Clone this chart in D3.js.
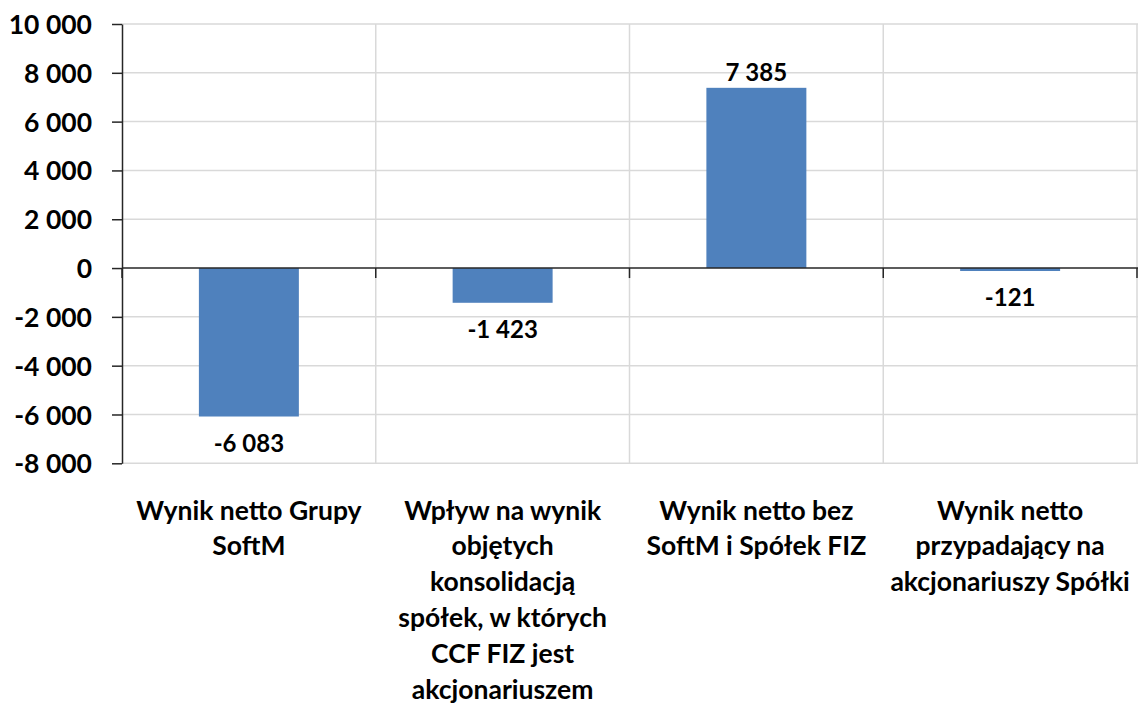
<!DOCTYPE html>
<html lang="pl">
<head>
    <meta charset="UTF-8">
    <title>Wynik netto</title>
    <script src="https://d3js.org/d3.v7.min.js"></script>
    <style>
        body { margin: 0; background: #fff; }
        svg text {
            font-family: Lato, "Open Sans", sans-serif;
            font-weight: bold;
            fill: #000;
        }
        .grid line { stroke: #d9d9d9; stroke-width: 1.5; }
        .axis path, .axis line { stroke: #262626; stroke-width: 1.5; fill: none; }
    </style>
</head>
<body>
    <svg width="1138" height="703"></svg>
    <script>
        // data
        const categories = [
            "Wynik netto Grupy\nSoftM",
            "Wpływ na wynik\nobjętych\nkonsolidacją\nspółek, w których\nCCF FIZ jest\nakcjonariuszem",
            "Wynik netto bez\nSoftM i Spółek FIZ",
            "Wynik netto\nprzypadający na\nakcjonariuszy Spółki"
        ];
        const values = [-6083, -1423, 7385, -121];
        const yTicks = [-8000, -6000, -4000, -2000, 0, 2000, 4000, 6000, 8000, 10000];

        const svg = d3.select("svg");
        const plotLeft = 122, plotRight = 1137, plotTop = 24, plotBottom = 463.3;

        const fmt = d3.formatLocale({
            decimal: ",", thousands: " ", grouping: [3],
            currency: ["", ""], minus: "-"
        }).format(",d");

        const x = d3.scaleBand()
            .domain(categories)
            .range([plotLeft, plotRight])
            .paddingInner(0.606)
            .paddingOuter(0.303);
        const y = d3.scaleLinear()
            .domain([-8000, 10000])
            .range([plotBottom, plotTop]);

        const step = x.step();
        const bounds = d3.range(categories.length + 1).map(i => plotLeft + i * step);

        // gridlines
        const grid = svg.append("g").attr("class", "grid");
        grid.selectAll(".h")
            .data(yTicks.filter(d => d !== 0))
            .enter().append("line")
            .attr("x1", plotLeft).attr("x2", plotRight + 1)
            .attr("y1", d => y(d)).attr("y2", d => y(d));
        grid.selectAll(".v")
            .data(bounds.slice(1))
            .enter().append("line")
            .attr("x1", d => d).attr("x2", d => d)
            .attr("y1", plotTop).attr("y2", plotBottom);

        // bars
        svg.selectAll("rect")
            .data(values)
            .enter().append("rect")
            .attr("x", (d, i) => x(categories[i]))
            .attr("width", x.bandwidth())
            .attr("y", d => y(Math.max(0, d)))
            .attr("height", d => Math.abs(y(d) - y(0)))
            .attr("fill", "#4f81bd");

        // value labels
        svg.selectAll(".val")
            .data(values)
            .enter().append("text")
            .attr("class", "val")
            .attr("x", (d, i) => x(categories[i]) + x.bandwidth() / 2)
            .attr("y", d => d >= 0 ? y(d) - 7 : y(d) + 35)
            .attr("text-anchor", "middle")
            .style("font-size", "24px")
            .text(d => fmt(d));

        // y axis
        const yAxis = svg.append("g")
            .attr("class", "axis")
            .attr("transform", `translate(${plotLeft},0)`)
            .call(d3.axisLeft(y).tickValues(yTicks).tickSize(10).tickSizeOuter(0).tickPadding(20).tickFormat(fmt));
        yAxis.selectAll("text").style("font-size", "26.5px").attr("dy", "0.36em");

        // x axis on zero line
        const xAxis = svg.append("g").attr("class", "axis");
        xAxis.append("line")
            .attr("x1", plotLeft).attr("x2", plotRight + 1)
            .attr("y1", y(0)).attr("y2", y(0));
        xAxis.selectAll(".tick")
            .data(bounds)
            .enter().append("line")
            .attr("x1", d => d).attr("x2", d => d)
            .attr("y1", y(0)).attr("y2", y(0) + 10);

        // category labels
        const lineH = 35.8;
        svg.selectAll(".cat")
            .data(categories)
            .enter().append("text")
            .attr("class", "cat")
            .attr("text-anchor", "middle")
            .style("font-size", "26.5px")
            .each(function (d) {
                const t = d3.select(this);
                d.split("\n").forEach((line, k) => {
                    t.append("tspan")
                        .attr("x", x(d) + x.bandwidth() / 2)
                        .attr("y", 519.5 + k * lineH)
                        .text(line);
                });
            });
    </script>
</body>
</html>
